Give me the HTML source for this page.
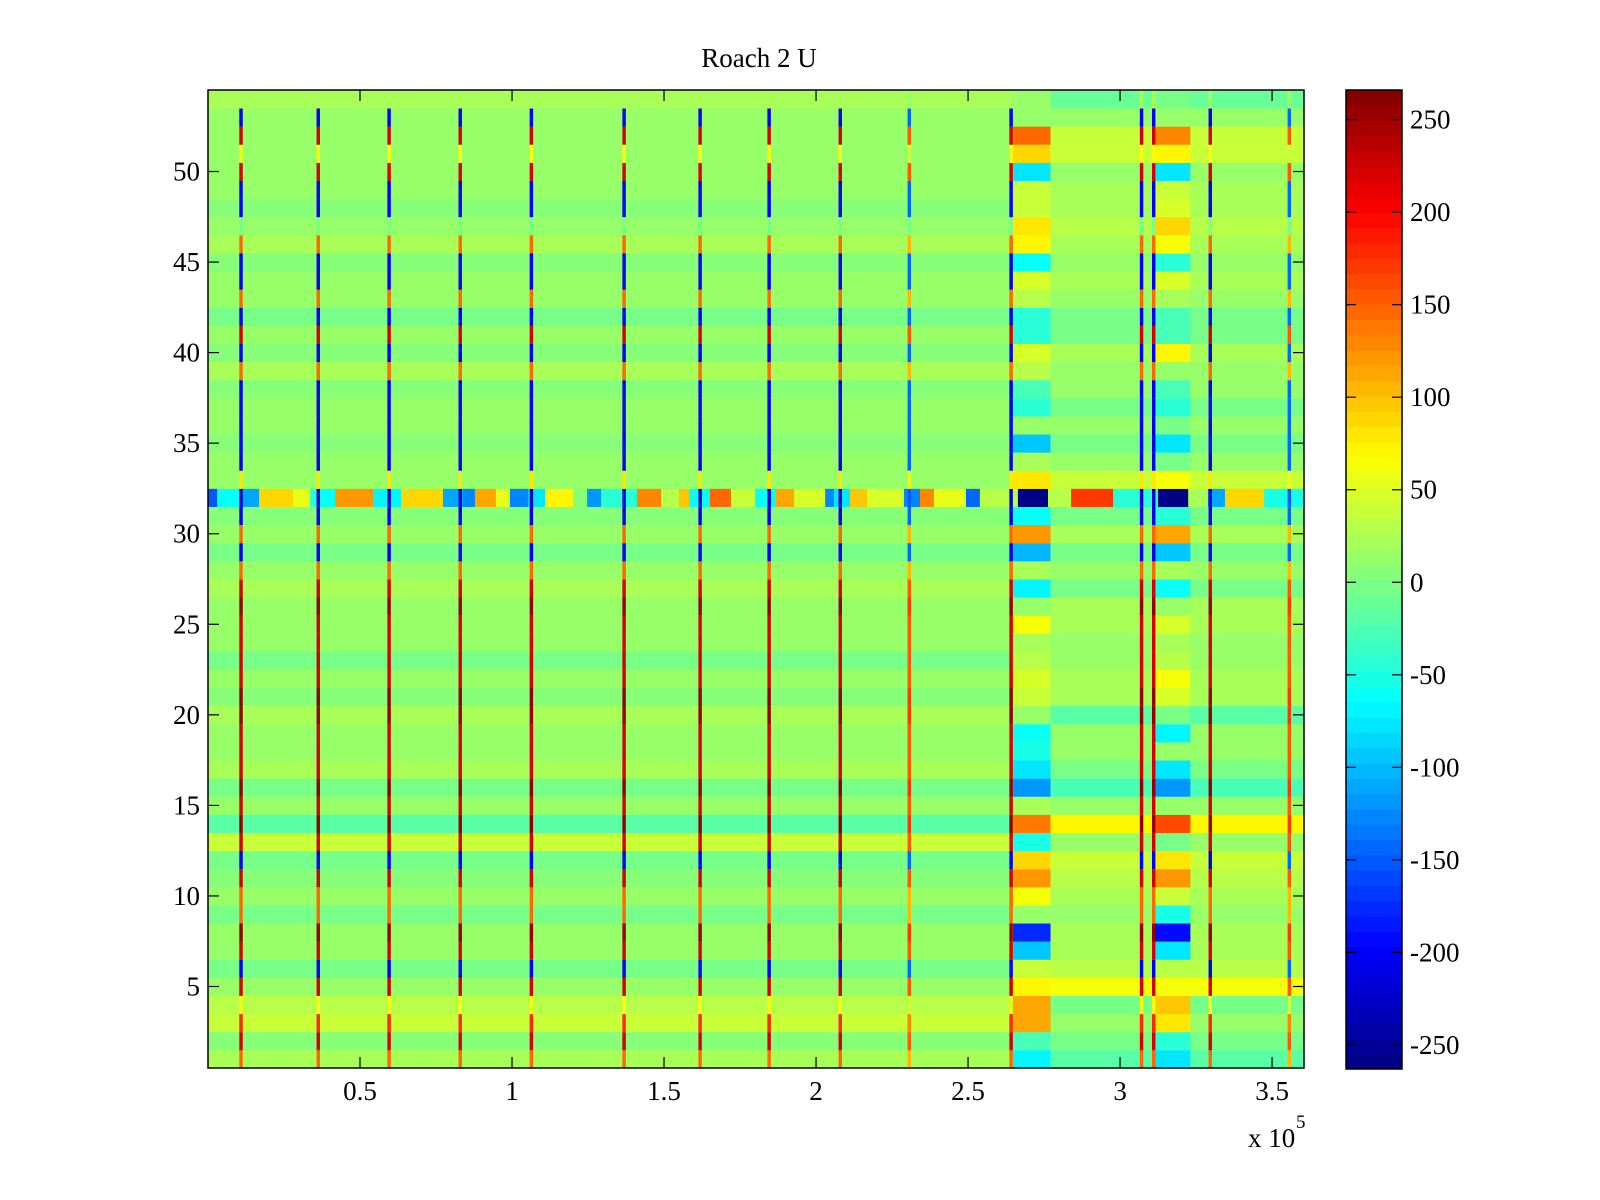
<!DOCTYPE html>
<html><head><meta charset="utf-8"><title>Roach 2 U</title>
<style>
html,body{margin:0;padding:0;background:#fff;}
svg{display:block;font-family:"Liberation Serif","DejaVu Serif",serif;}
</style></head>
<body>
<svg id="chart" width="1600" height="1200" viewBox="0 0 1600 1200" xmlns="http://www.w3.org/2000/svg">
<rect x="0" y="0" width="1600" height="1200" fill="#fff"/>
<text x="759" y="67" text-anchor="middle" font-size="27">Roach 2 U</text>
<g id="cells"></g>
<g id="axes"></g>
<g id="cbar"></g>
</svg>
<script>
// ---- data (rows 1..54, x in units of 1e5) ----
const rowBase = [20,5,35,30,10,0,10,15,0,15,5,0,35,-20,10,0,25,10,15,25,5,10,0,10,10,10,20,10,0,10,5,0,15,10,5,15,10,5,20,5,10,0,15,10,5,20,10,5,15,10,15,10,10,20];
const rowRight = [-20,0,10,0,60,30,20,20,10,20,30,40,10,70,10,-30,0,10,10,-20,20,20,10,10,20,20,0,10,0,20,0,0,40,10,0,10,0,10,10,20,0,0,10,20,10,20,30,20,20,10,40,40,10,-10];
const blockA = [-70,-30,110,110,70,40,-90,-180,10,60,120,90,-50,140,20,-120,-80,-50,-60,10,40,50,30,20,60,10,-70,20,-100,120,-60,0,80,20,-90,10,-40,-30,30,50,-40,-40,30,50,-60,70,80,40,40,-80,90,150,10,10];
const blockB = [-80,-40,80,100,60,30,-80,-190,-50,40,120,80,0,160,10,-120,-80,10,-70,0,50,60,30,20,50,10,-60,20,-90,110,-40,0,60,0,-80,0,-40,-30,10,70,-30,-30,20,50,-40,60,90,50,40,-80,70,130,10,0];
const stripeRow = [150,220,180,60,220,-200,220,250,150,150,220,-200,220,250,220,250,220,220,220,250,250,220,220,220,220,250,220,150,-200,150,-200,-220,80,-200,-200,-200,-200,-200,150,-200,220,-200,150,-200,-200,150,0,-200,-200,220,60,220,-200,20];
const stripeX = [0.108,0.362,0.595,0.829,1.063,1.368,1.618,1.845,2.079,2.306,2.641,3.070,3.110,3.296,3.556];
const stripeGain = [1,1,1,1,1,1,1,1,1,0.7,1,1,1,1,0.7];
const row32Start = [0,0.030,0.105,0.168,0.280,0.336,0.365,0.418,0.543,0.635,0.773,0.839,0.878,0.947,0.993,1.053,1.109,1.201,1.247,1.293,1.411,1.490,1.549,1.582,1.651,1.720,1.799,1.868,1.928,2.030,2.059,2.112,2.168,2.289,2.342,2.388,2.493,2.539,2.664,2.763,2.839,2.977,3.125,3.224,3.289,3.345,3.474];
const row32End = [0.030,0.105,0.168,0.280,0.336,0.365,0.418,0.543,0.635,0.773,0.839,0.878,0.947,0.993,1.053,1.109,1.201,1.247,1.293,1.411,1.490,1.549,1.582,1.651,1.720,1.799,1.868,1.928,2.030,2.059,2.112,2.168,2.289,2.342,2.388,2.493,2.539,2.664,2.763,2.839,2.977,3.125,3.224,3.289,3.345,3.474,3.605];
const row32Val = [-150,-60,-110,90,55,-40,-60,120,-70,85,-110,-130,110,55,-130,-80,75,5,-120,-45,130,30,100,-60,150,40,-60,110,45,-130,-80,100,45,-130,130,55,-140,30,-260,30,170,-40,-260,20,-110,90,-55];
const regionStart = 2.641, blockAStart = 2.648, blockAEnd = 2.770, blockBStart = 3.115, blockBEnd = 3.230;
const xTicks = [0.5,1,1.5,2,2.5,3,3.5];
const xTickLabels = ["0.5","1","1.5","2","2.5","3","3.5"];
const yTicks = [5,10,15,20,25,30,35,40,45,50];
const cTicks = [-250,-200,-150,-100,-50,0,50,100,150,200,250];

// ---- geometry ----
const PX0=208, PX1=1304, PY0=90, PY1=1068, XMAX=3.605, NROWS=54;
const CX0=1346, CX1=1402, CY0=90, CY1=1069, CMIN=-263, CMAX=266;
const NS="http://www.w3.org/2000/svg";
function sx(v){return PX0+(v/XMAX)*(PX1-PX0);}
function rowTop(r){return PY1-(r+0.5-0.5)*((PY1-PY0)/NROWS);} // r is 1-based; top edge
function sy(v){return PY1-(v-0.5)*((PY1-PY0)/NROWS);}
function cy(v){return CY1-(v-CMIN)/(CMAX-CMIN)*(CY1-CY0);}
function jet(v){
  let t=(v-CMIN)/(CMAX-CMIN); t=Math.max(0,Math.min(0.9999,t));
  const i=Math.floor(t*64); t=(i+0.5)/64;
  const c=x=>Math.round(255*Math.max(0,Math.min(1,x)));
  return `rgb(${c(1.5-Math.abs(4*t-3))},${c(1.5-Math.abs(4*t-2))},${c(1.5-Math.abs(4*t-1))})`;
}
function mk(tag,attrs,parent){const e=document.createElementNS(NS,tag);for(const k in attrs)e.setAttribute(k,attrs[k]);parent.appendChild(e);return e;}
const cells=document.getElementById('cells');
const rh=(PY1-PY0)/NROWS;
function cell(x0,x1,r,v,name){
  const e=mk('rect',{x:sx(x0).toFixed(2),y:(PY1-r*rh).toFixed(2),width:(sx(x1)-sx(x0)+0.4).toFixed(2),height:(rh+0.4).toFixed(2),fill:jet(v)},cells);
  
  
}
for(let i=0;i<NROWS;i++){
  const r=i+1;
  if(r===32){
    for(let k=0;k<row32Val.length;k++) cell(row32Start[k],row32End[k],r,row32Val[k],'row-32-segment');
  } else {
    cell(0,regionStart,r,rowBase[i],'row-cell');
    cell(regionStart,XMAX,r,rowRight[i],'row-right-cell');
    cell(blockAStart,blockAEnd,r,blockA[i],'block-a-cell');
    cell(blockBStart,blockBEnd,r,blockB[i],'block-b-cell');
  }
  for(let s=0;s<stripeX.length;s++){
    const half=0.005;
    cell(stripeX[s]-half,stripeX[s]+half,r,stripeRow[i]*stripeGain[s],'stripe-cell');
  }
}
// ---- axes ----
const axes=document.getElementById('axes');
const frame=mk('rect',{x:PX0,y:PY0,width:PX1-PX0,height:PY1-PY0,fill:'none',stroke:'#000','stroke-width':1.5},axes);


const TL=11;
xTicks.forEach((v,k)=>{
  const x=sx(v);
  mk('line',{x1:x,y1:PY1,x2:x,y2:PY1-TL,stroke:'#000','stroke-width':1.2},axes);
  mk('line',{x1:x,y1:PY0,x2:x,y2:PY0+TL,stroke:'#000','stroke-width':1.2},axes);
  const t=mk('text',{x:x,y:1100,'text-anchor':'middle','font-size':27},axes);
  t.textContent=xTickLabels[k];
  
  
});
yTicks.forEach(v=>{
  const y=sy(v);
  mk('line',{x1:PX0,y1:y,x2:PX0+TL,y2:y,stroke:'#000','stroke-width':1.2},axes);
  mk('line',{x1:PX1,y1:y,x2:PX1-TL,y2:y,stroke:'#000','stroke-width':1.2},axes);
  const t=mk('text',{x:200,y:y+9,'text-anchor':'end','font-size':27},axes);
  t.textContent=String(v);
  
  
});
const ex=mk('text',{x:1248,y:1147,'font-size':27},axes);
ex.textContent='x 10';


const ex2=mk('text',{x:1296,y:1128,'font-size':19},axes);
ex2.textContent='5';


// ---- colorbar ----
const cb=document.getElementById('cbar');
for(let i=0;i<64;i++){
  const v0=CMIN+(CMAX-CMIN)*i/64, v1=CMIN+(CMAX-CMIN)*(i+1)/64;
  const e=mk('rect',{x:CX0,y:cy(v1).toFixed(2),width:CX1-CX0,height:(cy(v0)-cy(v1)+0.5).toFixed(2),fill:jet((v0+v1)/2)},cb);
  
  
}
const cf=mk('rect',{x:CX0,y:CY0,width:CX1-CX0,height:CY1-CY0,fill:'none',stroke:'#000','stroke-width':1.5},cb);


cTicks.forEach(v=>{
  const y=cy(v);
  mk('line',{x1:CX0,y1:y,x2:CX0+10,y2:y,stroke:'#000','stroke-width':1.2},cb);
  mk('line',{x1:CX1,y1:y,x2:CX1-10,y2:y,stroke:'#000','stroke-width':1.2},cb);
  const t=mk('text',{x:1410,y:y+9,'font-size':27},cb);
  t.textContent=String(v);
  
  
});
</script>
</body></html>
